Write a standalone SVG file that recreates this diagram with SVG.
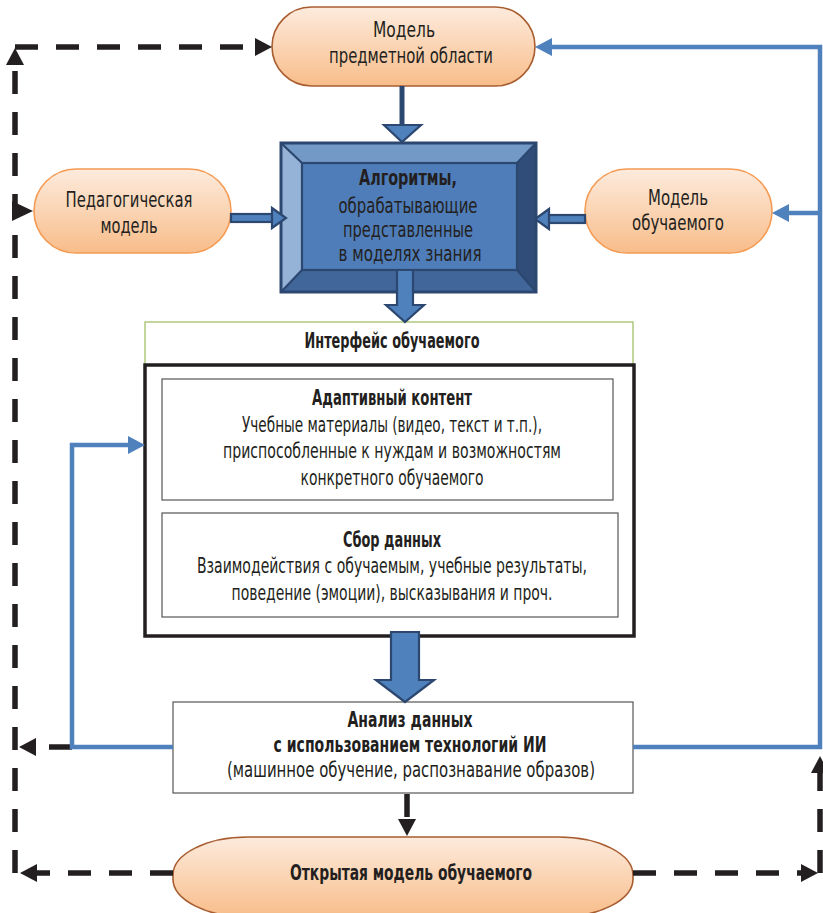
<svg xmlns="http://www.w3.org/2000/svg" width="823" height="913" viewBox="0 0 823 913">
<style>
.t{font-family:'DejaVu Sans Condensed','DejaVu Sans','Liberation Sans',sans-serif;font-stretch:condensed;font-size:21px;fill:#231f20;text-anchor:middle}
.b{font-weight:bold}
.pill{fill:url(#peach);stroke-width:1.6}
.brown{stroke:#a85d30}
.orange{stroke:#f59a52}
.box{fill:#fff;stroke:#555;stroke-width:1.2}
.dash{fill:none;stroke:#231f20;stroke-width:5.5;stroke-dasharray:23 18}
.blue{fill:none;stroke:#4f81bd;stroke-width:4.5}
.navy{stroke:#2c4770;stroke-width:2.2;stroke-linejoin:miter}
</style>
<defs>
<linearGradient id="peach" x1="0" y1="0" x2="0" y2="1">
<stop offset="0" stop-color="#fdebdd"/>
<stop offset="1" stop-color="#f8bd8a"/>
</linearGradient>
<marker id="ah" markerUnits="userSpaceOnUse" markerWidth="18" markerHeight="18" refX="0" refY="9" orient="auto" viewBox="0 0 18 18">
<path d="M0,0 L17,9 L0,18 Z" fill="#231f20"/>
</marker>
<marker id="bh" markerUnits="userSpaceOnUse" markerWidth="18" markerHeight="18" refX="0" refY="9" orient="auto" viewBox="0 0 18 18">
<path d="M0,0 L17,9 L0,18 Z" fill="#4f81bd"/>
</marker>
</defs>

<g id="node-domain">
<rect class="pill brown" x="272" y="7" width="263" height="79" rx="39.5"/>
<text class="t" x="404" y="37" textLength="62" lengthAdjust="spacingAndGlyphs">Модель</text>
<text class="t" x="411" y="63" textLength="164" lengthAdjust="spacingAndGlyphs">предметной области</text>
</g>

<g id="node-pedagogical">
<rect class="pill orange" x="34" y="169" width="197" height="84" rx="42"/>
<text class="t" x="129" y="207" textLength="127" lengthAdjust="spacingAndGlyphs">Педагогическая</text>
<text class="t" x="129" y="233" textLength="57" lengthAdjust="spacingAndGlyphs">модель</text>
</g>

<g id="node-learner-model">
<rect class="pill orange" x="585" y="169" width="187" height="84" rx="42"/>
<text class="t" x="678" y="205" textLength="60" lengthAdjust="spacingAndGlyphs">Модель</text>
<text class="t" x="678" y="230" textLength="92" lengthAdjust="spacingAndGlyphs">обучаемого</text>
</g>

<g id="node-algorithms">
<polygon points="281,143 536,143 517,163 302,163" fill="#7399c6"/>
<polygon points="281,143 302,163 302,270 281,292" fill="#95b3d7"/>
<polygon points="536,143 536,292 517,270 517,163" fill="#2f4d78"/>
<polygon points="281,292 302,270 517,270 536,292" fill="#41669a"/>
<rect x="302" y="163" width="215" height="107" fill="#4f7db9"/>
<g class="navy" fill="none">
<rect x="281" y="143" width="255" height="149" stroke-width="3"/>
<rect x="302" y="163" width="215" height="107"/>
<path d="M281,143 L302,163 M536,143 L517,163 M281,292 L302,270 M536,292 L517,270"/>
</g>
<text class="t b" x="408" y="185" textLength="98" lengthAdjust="spacingAndGlyphs">Алгоритмы,</text>
<text class="t" x="408" y="213" textLength="139" lengthAdjust="spacingAndGlyphs">обрабатывающие</text>
<text class="t" x="408" y="237" textLength="130" lengthAdjust="spacingAndGlyphs">представленные</text>
<text class="t" x="410" y="261" textLength="143" lengthAdjust="spacingAndGlyphs">в моделях знания</text>
</g>

<g id="node-interface">
<rect x="145" y="322" width="488" height="43" fill="#fff" stroke="#9bbb59" stroke-width="1.2"/>
<text class="t b" x="392" y="348" textLength="175" lengthAdjust="spacingAndGlyphs">Интерфейс обучаемого</text>
<rect x="145" y="365" width="489" height="271" fill="#fff" stroke="#231f20" stroke-width="3.5"/>
</g>

<g id="node-adaptive-content">
<rect class="box" x="162" y="379" width="451" height="121"/>
<text class="t b" x="392" y="405" textLength="160" lengthAdjust="spacingAndGlyphs">Адаптивный контент</text>
<text class="t" x="392" y="432" textLength="300" lengthAdjust="spacingAndGlyphs">Учебные материалы (видео, текст и т.п.),</text>
<text class="t" x="392" y="458" textLength="338" lengthAdjust="spacingAndGlyphs">приспособленные к нуждам и возможностям</text>
<text class="t" x="392" y="485" textLength="183" lengthAdjust="spacingAndGlyphs">конкретного обучаемого</text>
</g>

<g id="node-data-collection">
<rect class="box" x="162" y="513" width="456" height="104"/>
<text class="t b" x="392" y="547" textLength="98" lengthAdjust="spacingAndGlyphs">Сбор данных</text>
<text class="t" x="392" y="573" textLength="390" lengthAdjust="spacingAndGlyphs">Взаимодействия с обучаемым, учебные результаты,</text>
<text class="t" x="392" y="600" textLength="321" lengthAdjust="spacingAndGlyphs">поведение (эмоции), высказывания и проч.</text>
</g>

<g id="node-analysis">
<rect class="box" x="173" y="702" width="460" height="91" stroke="#666"/>
<text class="t b" x="410" y="727" textLength="125" lengthAdjust="spacingAndGlyphs">Анализ данных</text>
<text class="t b" x="410" y="752" textLength="273" lengthAdjust="spacingAndGlyphs">с использованием технологий ИИ</text>
<text class="t" x="411" y="777" textLength="368" lengthAdjust="spacingAndGlyphs">(машинное обучение, распознавание образов)</text>
</g>

<g id="node-open-model">
<rect class="pill brown" x="173" y="837" width="460" height="80" rx="75" ry="38"/>
<text class="t b" x="411" y="880" textLength="242" lengthAdjust="spacingAndGlyphs">Открытая модель обучаемого</text>
</g>

<g id="connectors">
<path class="dash" d="M15,873 V65" marker-end="url(#ah)"/>
<path class="dash" d="M15,47 H255" marker-end="url(#ah)"/>
<path d="M12,201 L33,211 L12,221 Z" fill="#231f20"/>
<path class="dash" d="M72,747 H36" marker-end="url(#ah)"/>
<path class="dash" d="M173,873 H37" marker-end="url(#ah)"/>
<path class="dash" d="M633,873 H801" marker-end="url(#ah)"/>
<path class="dash" d="M820,873 V773" marker-end="url(#ah)"/>
<path class="dash" d="M407,794 V819" marker-end="url(#ah)"/>
<path class="blue" d="M820,749 V47 H552" marker-end="url(#bh)"/>
<path class="blue" d="M820,213 H789" marker-end="url(#bh)"/>
<path class="blue" d="M633,747 H822"/>
<path class="blue" d="M173,747 H72 V445 H128" marker-end="url(#bh)"/>
<path d="M402,86 V126" stroke="#2c4770" stroke-width="5" fill="none"/>
<polygon class="navy" points="384,125 421,125 402,142" fill="#4f81bd"/>
<rect class="navy" x="231" y="214" width="42" height="8" fill="#4f81bd"/>
<polygon class="navy" points="272,208 286,218 272,228" fill="#4f81bd"/>
<rect class="navy" x="549" y="215" width="36" height="8" fill="#4f81bd"/>
<polygon class="navy" points="549,209 535,219 549,229" fill="#4f81bd"/>
<polygon class="navy" points="397,270 413,270 413,305 424,305 405,322 386,305 397,305" fill="#4f81bd"/>
<polygon class="navy" points="391,632 419,632 419,680 434,680 405,702 376,680 391,680" fill="#4f81bd"/>
</g>
</svg>
